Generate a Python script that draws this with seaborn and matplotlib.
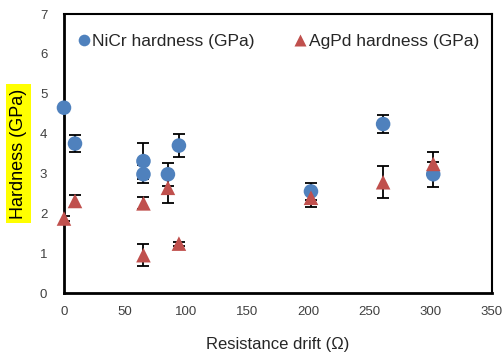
import matplotlib
matplotlib.use("Agg")
import pandas as pd
import seaborn as sns
from matplotlib import pyplot as plt

# values
drift = [0, 9, 65, 65, 85, 94, 202, 261, 302]
nicr_hardness = [4.65, 3.75, 3.31, 2.98, 2.98, 3.70, 2.55, 4.24, 2.98]
nicr_err = [0.0, 0.22, 0.46, 0.23, 0.29, 0.29, 0.22, 0.22, 0.32]
agpd_hardness = [1.87, 2.31, 2.25, 0.95, 2.64, 1.24, 2.39, 2.78, 3.24]
agpd_err = [0.06, 0.16, 0.15, 0.28, 0.38, 0.05, 0.22, 0.40, 0.31]

series = ["NiCr hardness (GPa)", "AgPd hardness (GPa)"]
colors = {series[0]: "#4F81BD", series[1]: "#C0504D"}
markers = {series[0]: "o", series[1]: "^"}

df = pd.DataFrame({
    "drift": drift + drift,
    "hardness": nicr_hardness + agpd_hardness,
    "err": nicr_err + agpd_err,
    "series": [series[0]] * len(drift) + [series[1]] * len(drift),
})

sns.set_theme(style="white")
plt.rcParams["font.family"] = ["Liberation Sans", "DejaVu Sans"]

fig = plt.figure(figsize=(5.03, 3.6), dpi=100)
ax = fig.add_axes([0.1272, 0.186, 0.978 - 0.1272, 0.961 - 0.186])

sns.scatterplot(data=df, x="drift", y="hardness", hue="series", style="series",
                palette=colors, markers=markers, s=110, edgecolor="none",
                ax=ax, zorder=4, clip_on=False)

# error bars sit under the markers; skip the ones with no spread
bars = df[df["err"] > 0]
ax.errorbar(bars["drift"], bars["hardness"], yerr=bars["err"], fmt="none",
            ecolor="black", elinewidth=1.3, capsize=4, capthick=1.3, zorder=3)

ax.set_xlim(0, 350)
ax.set_ylim(0, 7)
ax.set_xticks(range(0, 351, 50))
ax.set_yticks(range(0, 8))
ax.tick_params(axis="both", length=0, labelsize=9.5, labelcolor="#404040")
ax.tick_params(axis="y", pad=12)
ax.tick_params(axis="x", pad=9)

for side in ["left", "bottom", "top", "right"]:
    ax.spines[side].set_color("black")
    ax.spines[side].set_linewidth(1.5)
ax.spines["left"].set_linewidth(2)
ax.spines["bottom"].set_linewidth(2)

ax.set_xlabel("Resistance drift (\u03a9)", fontsize=12, color="#262626", labelpad=14)
ax.set_ylabel("Hardness (GPa)", fontsize=13, color="black", labelpad=9,
              bbox=dict(facecolor="yellow", edgecolor="none", pad=3))

leg = ax.legend(loc="upper center", ncol=2, frameon=False, fontsize=12.5,
                handlelength=0.8, handletextpad=0.1, columnspacing=2.2,
                markerscale=0.8, bbox_to_anchor=(0.5, 0.985))
for t in leg.get_texts():
    t.set_color("#262626")

fig.savefig("out.png", dpi=100)
